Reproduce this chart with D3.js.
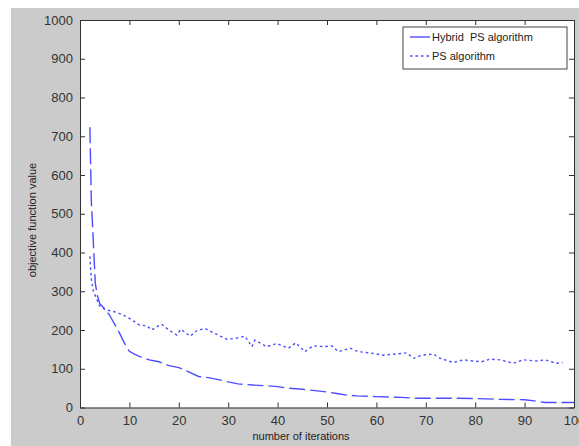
<!DOCTYPE html>
<html>
<head>
<meta charset="utf-8">
<script src="https://cdn.jsdelivr.net/npm/d3@7"></script>
<style>
  body { margin: 0; background: #fff; }
  svg { display: block; }
</style>
</head>
<body>
<div class="main"></div>
<script>
// values
let xTicks = [0, 10, 20, 30, 40, 50, 60, 70, 80, 90, 100];
let yTicks = [0, 100, 200, 300, 400, 500, 600, 700, 800, 900, 1000];

let hybridIter = [2, 2.3, 2.5, 2.8, 3.1, 3.5, 4, 5, 6, 7, 8, 9, 10, 11, 12, 14, 16, 18, 20, 22, 24, 26, 28, 30, 32, 35, 38, 40, 42, 45, 48, 50, 52, 54, 56, 60, 65, 68, 75, 80, 85, 90, 92, 94, 100];
let hybridVal = [723, 530, 480, 400, 320, 290, 268, 255, 238, 215, 192, 166, 145, 138, 132, 123, 118, 108, 103, 92, 80, 77, 72, 66, 61, 58, 56, 54, 50, 47, 43, 40, 36, 32, 30, 28, 26, 24, 24, 23, 21, 20, 17, 13, 13];

let psIter = [2, 2.3, 2.7, 3.2, 4, 5, 7, 8.5, 10, 12, 13.5, 14.5, 16.5, 18, 19.6, 20.4, 22.3, 23.6, 25.3, 27.3, 29.7, 31.7, 33.4, 34.8, 35.4, 37.8, 39.8, 42.2, 43.7, 45.5, 47.2, 49.3, 51, 52.3, 54.7, 56.3, 58.7, 61.4, 63.8, 66.1, 67.5, 69.2, 71.5, 72.9, 75.6, 77.6, 79.6, 81.3, 83, 85, 87.7, 89.7, 92.4, 94.1, 96.4, 97.7];
let psVal = [390, 330, 300, 285, 262, 253, 247, 240, 230, 213, 211, 200, 215, 200, 187, 202, 184, 198, 204, 191, 176, 179, 184, 157, 174, 157, 165, 153, 167, 144, 159, 157, 159, 144, 153, 144, 141, 135, 138, 141, 127, 135, 138, 127, 116, 123, 120, 118, 125, 123, 114, 123, 120, 123, 114, 116];

let legendLabels = ['Hybrid  PS algorithm', 'PS algorithm'];

let chart = {
  width: 579,
  height: 446,
  left: 80,
  right: 574,
  top: 20,
  bottom: 407.5,
  blue: '#4d4dff',
  ink: '#333'
};

let svg = d3.select('.main').append('svg')
  .attr('width', chart.width)
  .attr('height', chart.height);

// figure background (grey, white strip at top and left)
svg.append('rect').attr('x', 11).attr('y', 8)
  .attr('width', chart.width - 11).attr('height', chart.height - 8)
  .attr('fill', '#cbcbcb');

svg.append('rect')
  .attr('x', chart.left).attr('y', chart.top)
  .attr('width', chart.right - chart.left).attr('height', chart.bottom - chart.top)
  .attr('fill', '#fff');

let x = d3.scaleLinear().domain([0, 100]).range([chart.left, chart.right]);
let y = d3.scaleLinear().domain([0, 1000]).range([chart.bottom, chart.top]);

function styleAxis(g) {
  g.selectAll('path.domain').attr('stroke', chart.ink);
  g.selectAll('.tick line').attr('stroke', chart.ink);
  g.selectAll('.tick text')
    .attr('fill', '#333')
    .style('font-family', '"Liberation Sans", Arial, sans-serif')
    .style('font-size', '13px');
}

svg.append('g').attr('transform', `translate(0,${chart.bottom})`)
  .call(d3.axisBottom(x).tickValues(xTicks).tickFormat(d3.format('d')).tickSizeInner(-5).tickSizeOuter(0).tickPadding(8))
  .call(styleAxis);
svg.append('g').attr('transform', `translate(${chart.left},0)`)
  .call(d3.axisLeft(y).tickValues(yTicks).tickFormat(d3.format('d')).tickSizeInner(-5).tickSizeOuter(0).tickPadding(7))
  .call(styleAxis);
svg.append('g').attr('transform', `translate(0,${chart.top})`)
  .call(d3.axisTop(x).tickValues(xTicks).tickSizeInner(-5).tickSizeOuter(0).tickFormat(''))
  .call(styleAxis);
svg.append('g').attr('transform', `translate(${chart.right},0)`)
  .call(d3.axisRight(y).tickValues(yTicks).tickSizeInner(-5).tickSizeOuter(0).tickFormat(''))
  .call(styleAxis);

let line = d3.line().x(d => x(d[0])).y(d => y(d[1]));

let hybrid = d3.zip(hybridIter, hybridVal);
let ps = d3.zip(psIter, psVal);

svg.append('path').datum(ps)
  .attr('d', line)
  .attr('fill', 'none')
  .attr('stroke', chart.blue)
  .attr('stroke-width', 1.4)
  .attr('stroke-dasharray', '2.5,3');

svg.append('path').datum(hybrid)
  .attr('d', line)
  .attr('fill', 'none')
  .attr('stroke', chart.blue)
  .attr('stroke-width', 1.4)
  .attr('stroke-dasharray', '16,5');

// axis labels
svg.append('text')
  .attr('x', 301).attr('y', 440)
  .attr('text-anchor', 'middle')
  .style('font-family', '"Liberation Sans", Arial, sans-serif')
  .style('font-size', '11px')
  .attr('fill', '#222')
  .text('number of iterations');

svg.append('text')
  .attr('transform', 'translate(36,220) rotate(-90)')
  .attr('text-anchor', 'middle')
  .style('font-family', '"Liberation Sans", Arial, sans-serif')
  .style('font-size', '11px')
  .attr('fill', '#222')
  .text('objective function value');

// legend
let legend = svg.append('g');
legend.append('rect')
  .attr('x', 403).attr('y', 27)
  .attr('width', 164).attr('height', 42)
  .attr('fill', '#fff')
  .attr('stroke', '#444');

legend.selectAll('line.key').data(legendLabels).enter().append('line')
  .attr('class', 'key')
  .attr('x1', 410).attr('x2', 430)
  .attr('y1', (d, i) => 37 + i * 19)
  .attr('y2', (d, i) => 37 + i * 19)
  .attr('stroke', chart.blue)
  .attr('stroke-width', 1.4)
  .attr('stroke-dasharray', (d, i) => i === 0 ? null : '2.5,3');

legend.selectAll('text').data(legendLabels).enter().append('text')
  .attr('x', 432)
  .attr('y', (d, i) => 37 + i * 19)
  .attr('dy', '0.35em')
  .style('white-space', 'pre')
  .style('font-family', '"Liberation Sans", Arial, sans-serif')
  .style('font-size', '11px')
  .attr('fill', '#222')
  .text(d => d);
</script>
</body>
</html>
